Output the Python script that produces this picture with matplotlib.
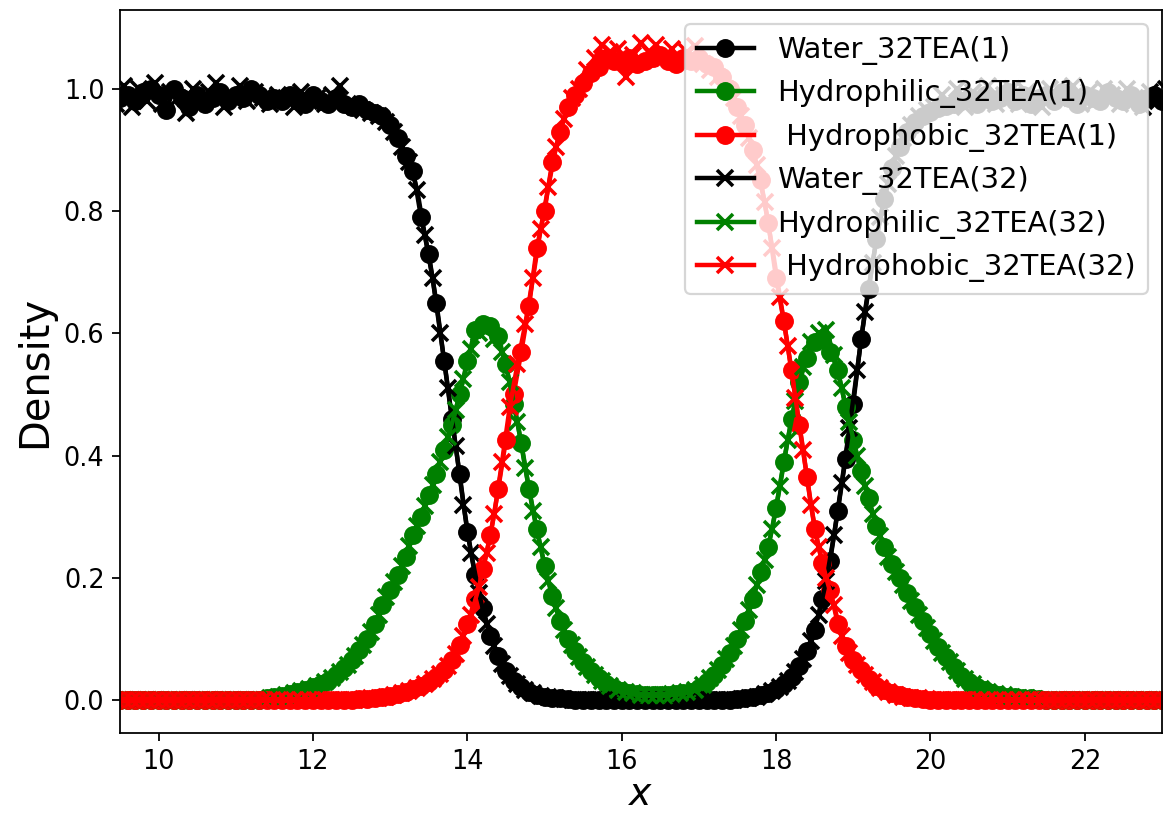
from matplotlib import pyplot as plt
import numpy as np

# bin centres (step 0.1), the 32TEA(32) run sits half a bin further right
x_1 = np.round(np.arange(9.4, 23.15, 0.1), 2)
x_32 = x_1 + 0.05

water_1 = [
    0.99, 0.985, 0.99, 0.98, 0.995, 1.0, 0.99, 0.965, 1.0, 0.985,
    0.97, 0.99, 0.975, 0.985, 0.995, 0.98, 0.99, 0.985, 1.0, 0.99,
    0.98, 0.985, 0.98, 0.99, 0.985, 0.975, 0.99, 0.98, 0.975, 0.985,
    0.975, 0.97, 0.975, 0.965, 0.96, 0.955, 0.94, 0.92, 0.89, 0.865,
    0.79, 0.73, 0.65, 0.555, 0.46, 0.37, 0.275, 0.205, 0.15, 0.105,
    0.072, 0.048, 0.032, 0.021, 0.014, 0.009, 0.006, 0.004, 0.003, 0.002,
    0.001, 0.001, 0, 0, 0, 0, 0, 0, 0, 0,
    0, 0, 0, 0, 0, 0, 0, 0, 0, 0,
    0.001, 0.002, 0.003, 0.005, 0.008, 0.012, 0.018, 0.026, 0.038, 0.056,
    0.08, 0.115, 0.165, 0.228, 0.31, 0.395, 0.485, 0.59, 0.672, 0.755,
    0.82, 0.87, 0.905, 0.93, 0.945, 0.955, 0.962, 0.968, 0.972, 0.975,
    0.98, 0.985, 0.975, 0.99, 0.98, 0.985, 0.995, 0.98, 0.99, 0.975,
    0.985, 0.99, 0.98, 0.995, 0.985, 0.975, 0.99, 0.985, 0.98, 0.995,
    0.985, 0.98, 0.99, 0.975, 0.985, 0.99, 0.98, 0.975]

hydrophilic_1 = [
    0, 0, 0, 0, 0, 0, 0, 0, 0, 0,
    0, 0, 0, 0, 0, 0, 0, 0, 0, 0,
    0.003, 0.005, 0.007, 0.01, 0.013, 0.017, 0.021, 0.026, 0.032, 0.041,
    0.052, 0.066, 0.082, 0.1, 0.125, 0.155, 0.18, 0.205, 0.235, 0.27,
    0.3, 0.335, 0.37, 0.41, 0.45, 0.5, 0.555, 0.605, 0.615, 0.612,
    0.595, 0.55, 0.485, 0.42, 0.345, 0.28, 0.22, 0.17, 0.13, 0.1,
    0.08, 0.062, 0.048, 0.036, 0.027, 0.02, 0.015, 0.012, 0.01, 0.009,
    0.008, 0.008, 0.009, 0.01, 0.012, 0.014, 0.02, 0.03, 0.042, 0.058,
    0.078, 0.1, 0.13, 0.165, 0.21, 0.25, 0.315, 0.39, 0.46, 0.52,
    0.56, 0.585, 0.59, 0.57, 0.54, 0.48, 0.425, 0.375, 0.33, 0.285,
    0.25, 0.222, 0.2, 0.175, 0.152, 0.13, 0.108, 0.087, 0.07, 0.054,
    0.04, 0.03, 0.022, 0.016, 0.012, 0.009, 0.006, 0.005, 0.004, 0.003,
    0.002, 0.001, 0, 0, 0, 0, 0, 0, 0, 0,
    0, 0, 0, 0, 0, 0, 0, 0]

hydrophobic_1 = [
    0, 0, 0, 0, 0, 0, 0, 0, 0, 0,
    0, 0, 0, 0, 0, 0, 0, 0, 0, 0,
    0, 0, 0, 0, 0, 0, 0, 0, 0, 0,
    0, 0.001, 0.002, 0.002, 0.003, 0.005, 0.007, 0.01, 0.013, 0.018,
    0.023, 0.03, 0.038, 0.05, 0.065, 0.09, 0.125, 0.165, 0.215, 0.27,
    0.345, 0.425, 0.5, 0.57, 0.645, 0.74, 0.8, 0.88, 0.93, 0.97,
    0.99, 1.01, 1.025, 1.035, 1.05, 1.045, 1.045, 1.05, 1.04, 1.045,
    1.05, 1.055, 1.045, 1.04, 1.05, 1.045, 1.05, 1.04, 1.035, 1.02,
    1.0, 0.97, 0.94, 0.9, 0.85, 0.78, 0.69, 0.62, 0.54, 0.45,
    0.365, 0.28, 0.225, 0.18, 0.125, 0.088, 0.066, 0.05, 0.035, 0.024,
    0.016, 0.011, 0.008, 0.005, 0.003, 0.002, 0.001, 0.001, 0, 0,
    0, 0, 0, 0, 0, 0, 0, 0, 0, 0,
    0, 0, 0, 0, 0, 0, 0, 0, 0, 0,
    0, 0, 0, 0, 0, 0, 0, 0]

water_32 = [
    0.975, 1.005, 0.97, 1.0, 0.98, 1.01, 0.975, 0.995, 0.985, 0.96,
    1.0, 0.975, 0.995, 1.01, 0.97, 0.99, 1.005, 0.98, 0.995, 0.985,
    0.975, 0.99, 0.985, 0.97, 0.995, 0.98, 0.985, 0.975, 0.99, 1.005,
    0.975, 0.97, 0.965, 0.96, 0.955, 0.945, 0.93, 0.905, 0.88, 0.835,
    0.76, 0.69, 0.6, 0.51, 0.415, 0.32, 0.24, 0.175, 0.125, 0.088,
    0.06, 0.04, 0.026, 0.017, 0.011, 0.007, 0.005, 0.003, 0.002, 0.001,
    0.001, 0, 0, 0, 0, 0, 0, 0, 0, 0,
    0, 0, 0, 0, 0, 0, 0, 0, 0, 0.001,
    0.001, 0.002, 0.004, 0.006, 0.01, 0.015, 0.022, 0.032, 0.046, 0.068,
    0.097, 0.14, 0.195, 0.27, 0.355, 0.445, 0.54, 0.635, 0.715, 0.79,
    0.845, 0.89, 0.92, 0.94, 0.955, 0.965, 0.97, 0.99, 0.975, 1.0,
    0.97, 0.995, 0.985, 1.005, 0.975, 0.99, 1.0, 0.975, 0.995, 0.985,
    0.97, 1.0, 0.985, 0.99, 1.005, 0.975, 0.995, 0.98, 1.0, 0.99,
    0.975, 1.0, 0.985, 0.97, 0.995, 0.98, 1.0, 0.985]

hydrophilic_32 = [
    0, 0, 0, 0, 0, 0, 0, 0, 0, 0,
    0, 0, 0, 0, 0, 0, 0, 0, 0, 0,
    0.004, 0.006, 0.008, 0.011, 0.015, 0.019, 0.024, 0.029, 0.036, 0.046,
    0.058, 0.073, 0.09, 0.112, 0.14, 0.168, 0.193, 0.22, 0.252, 0.285,
    0.318, 0.352, 0.39, 0.43, 0.475, 0.525, 0.575, 0.6, 0.605, 0.59,
    0.57, 0.52, 0.455, 0.38, 0.31, 0.25, 0.195, 0.15, 0.115, 0.09,
    0.07, 0.055, 0.042, 0.031, 0.023, 0.017, 0.013, 0.011, 0.009, 0.008,
    0.008, 0.009, 0.01, 0.011, 0.013, 0.017, 0.025, 0.036, 0.05, 0.068,
    0.088, 0.115, 0.148, 0.188, 0.23, 0.28, 0.35, 0.425, 0.49, 0.545,
    0.585, 0.6, 0.605, 0.565, 0.51, 0.455, 0.4, 0.35, 0.305, 0.268,
    0.235, 0.21, 0.188, 0.163, 0.14, 0.118, 0.097, 0.078, 0.062, 0.047,
    0.035, 0.026, 0.019, 0.014, 0.01, 0.008, 0.006, 0.004, 0.003, 0.002,
    0.001, 0.001, 0, 0, 0, 0, 0, 0, 0, 0,
    0, 0, 0, 0, 0, 0, 0, 0]

hydrophobic_32 = [
    0, 0, 0, 0, 0, 0, 0, 0, 0, 0,
    0, 0, 0, 0, 0, 0, 0, 0, 0, 0,
    0, 0, 0, 0, 0, 0, 0, 0, 0, 0,
    0.001, 0.001, 0.002, 0.003, 0.004, 0.006, 0.008, 0.011, 0.015, 0.02,
    0.026, 0.034, 0.043, 0.056, 0.075, 0.105, 0.14, 0.185, 0.24, 0.305,
    0.39, 0.48, 0.55, 0.615, 0.69, 0.77, 0.84, 0.905, 0.95, 0.985,
    1.0, 1.03, 1.05, 1.072, 1.06, 1.065, 1.02, 1.055, 1.075, 1.06,
    1.072, 1.05, 1.065, 1.045, 1.06, 1.07, 1.04, 1.03, 1.02, 1.0,
    0.985, 0.955, 0.92, 0.875, 0.815, 0.74, 0.66, 0.58, 0.495, 0.41,
    0.32, 0.25, 0.2, 0.155, 0.105, 0.077, 0.058, 0.042, 0.029, 0.02,
    0.013, 0.009, 0.006, 0.004, 0.003, 0.002, 0.001, 0, 0, 0,
    0, 0, 0, 0, 0, 0, 0, 0, 0, 0,
    0, 0, 0, 0, 0, 0, 0, 0, 0, 0,
    0, 0, 0, 0, 0, 0, 0, 0]

fig = plt.figure(figsize=(7.3, 5.125), dpi=160)
ax = fig.add_axes([0.1027, 0.106, 0.8922, 0.8818])

ms = 7.5
lw = 2
ax.plot(x_1, water_1, '-o', color='black', ms=ms, lw=lw, label='Water_32TEA(1)')
ax.plot(x_1, hydrophilic_1, '-o', color='green', ms=ms, lw=lw, label='Hydrophilic_32TEA(1)')
ax.plot(x_1, hydrophobic_1, '-o', color='red', ms=ms, lw=lw, label=' Hydrophobic_32TEA(1)')
ax.plot(x_32, water_32, '-x', color='black', ms=ms, mew=1.6, lw=lw, label='Water_32TEA(32)')
ax.plot(x_32, hydrophilic_32, '-x', color='green', ms=ms, mew=1.6, lw=lw, label='Hydrophilic_32TEA(32)')
ax.plot(x_32, hydrophobic_32, '-x', color='red', ms=ms, mew=1.6, lw=lw, label=' Hydrophobic_32TEA(32)')

ax.set_xlim(9.5, 23)
ax.tick_params(labelsize=11.5)
ax.set_xlabel('$x$', fontsize=17, labelpad=1)
ax.set_ylabel('Density', fontsize=18)
ax.legend(loc='upper right', fontsize=13)

plt.savefig('out.png', dpi=160)
